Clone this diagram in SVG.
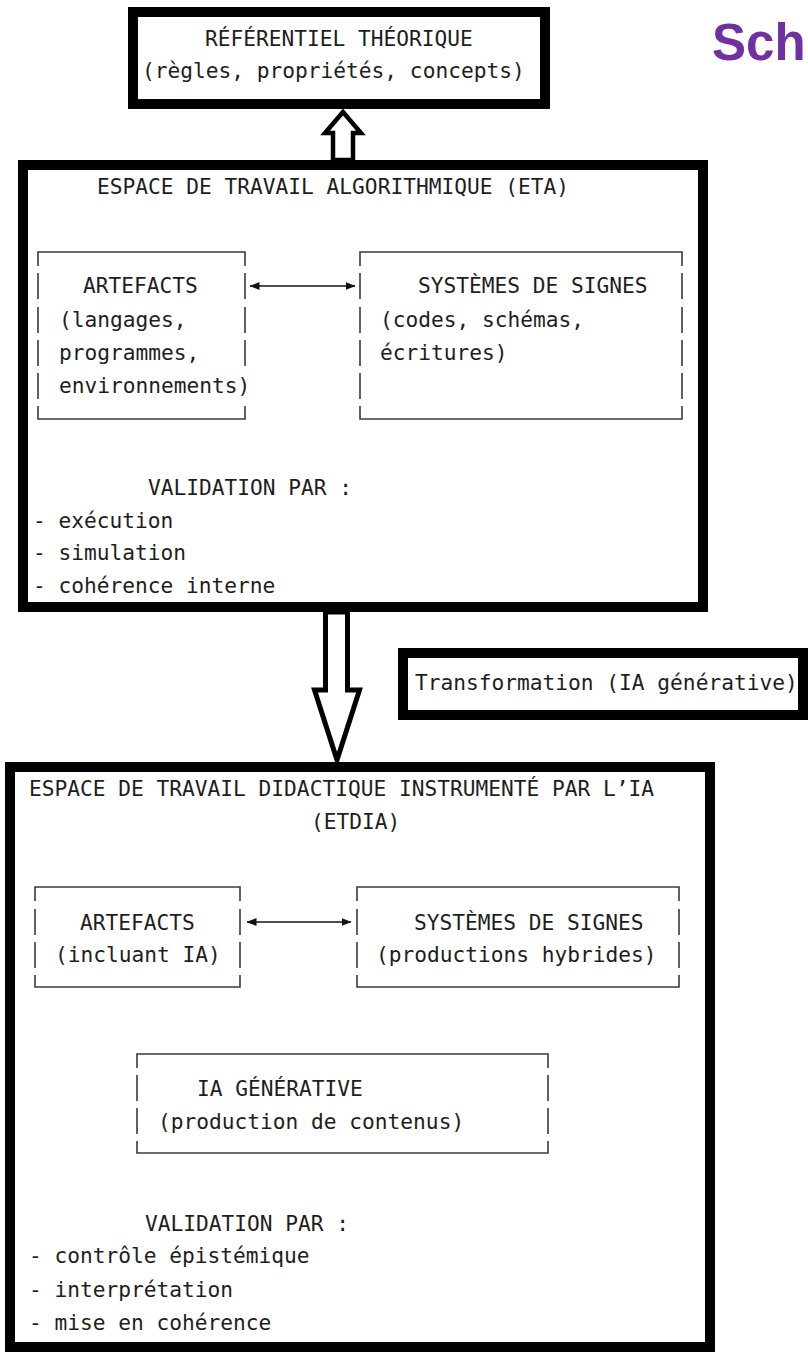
<svg xmlns="http://www.w3.org/2000/svg" width="808" height="1352" viewBox="0 0 808 1352">
  <style>
    .t { font-family: "DejaVu Sans Mono", "Liberation Mono", monospace; font-size: 21.2px; fill: #1e1e1e; }
    .frame { fill: #fff; stroke: #000; stroke-width: 10; }
    .ascii { fill: none; stroke: #3a3a3a; stroke-width: 1.6; }
    .big { fill: #fff; stroke: #000; stroke-linejoin: miter; }
    .link { stroke: #111; stroke-width: 1.5; fill: none; }
    .title { font-family: "Liberation Sans", Arial, sans-serif; font-weight: bold; font-size: 51px; fill: #7030a0; }
  </style>
  <defs>
    <marker id="head" viewBox="0 0 10 8" refX="9.5" refY="4" markerWidth="10" markerHeight="8" markerUnits="userSpaceOnUse" orient="auto-start-reverse">
      <path d="M0,0 L10,4 L0,8 z" fill="#111"/>
    </marker>
  </defs>

  <rect width="808" height="1352" fill="#fff"/>

  <!-- heading, cut at the right edge -->
  <text class="title" x="712" y="60">Sch</text>

  <!-- theoretical reference -->
  <g id="referentiel">
    <rect class="frame" x="133" y="12" width="412" height="92"/>
    <text class="t" x="205" y="46">RÉFÉRENTIEL THÉORIQUE</text>
    <text class="t" x="142" y="78">(règles, propriétés, concepts)</text>
  </g>

  <!-- algorithmic work space -->
  <g id="eta">
    <rect class="frame" x="23" y="165" width="680" height="442"/>
    <text class="t" x="97" y="194">ESPACE DE TRAVAIL ALGORITHMIQUE (ETA)</text>
    <text class="t" x="148" y="495">VALIDATION PAR :</text>
    <text class="t" x="33" y="528">- exécution</text>
    <text class="t" x="33" y="560">- simulation</text>
    <text class="t" x="33" y="593">- cohérence interne</text>
  </g>

  <g id="eta-artefacts">
    <path class="ascii" d="M38,266 V252 H245 V266 M38,273 V299 M245,273 V299 M38,307 V333 M245,307 V333 M38,340 V366 M245,340 V366 M38,373 V399 M38,406 V419 H245 V406"/>
    <text class="t" x="83" y="293">ARTEFACTS</text>
    <text class="t" x="59" y="327">(langages,</text>
    <text class="t" x="59" y="360">programmes,</text>
    <text class="t" x="59" y="393">environnements)</text>
  </g>

  <g id="eta-signes">
    <path class="ascii" d="M360,266 V252 H682 V266 M360,273 V299 M682,273 V299 M360,307 V333 M682,307 V333 M360,340 V366 M682,340 V366 M360,373 V399 M682,373 V399 M360,406 V419 H682 V406"/>
    <text class="t" x="418" y="293">SYSTÈMES DE SIGNES</text>
    <text class="t" x="380" y="327">(codes, schémas,</text>
    <text class="t" x="380" y="360">écritures)</text>
  </g>

  <!-- transformation label -->
  <g id="transformation">
    <rect class="frame" x="403" y="653" width="400" height="62"/>
    <text class="t" x="415" y="690">Transformation (IA générative)</text>
  </g>

  <!-- AI-instrumented didactic work space -->
  <g id="etdia">
    <rect class="frame" x="10" y="767" width="700" height="580"/>
    <text class="t" x="29" y="796">ESPACE DE TRAVAIL DIDACTIQUE INSTRUMENTÉ PAR L’IA</text>
    <text class="t" x="311" y="829">(ETDIA)</text>
    <text class="t" x="145" y="1231">VALIDATION PAR :</text>
    <text class="t" x="29" y="1263">- contrôle épistémique</text>
    <text class="t" x="29" y="1297">- interprétation</text>
    <text class="t" x="29" y="1330">- mise en cohérence</text>
  </g>

  <g id="etdia-artefacts">
    <path class="ascii" d="M35,901 V887 H240 V901 M35,909 V935 M240,909 V935 M35,942 V968 M240,942 V968 M35,975 V987 H240 V975"/>
    <text class="t" x="80" y="930">ARTEFACTS</text>
    <text class="t" x="55" y="962">(incluant IA)</text>
  </g>

  <g id="etdia-signes">
    <path class="ascii" d="M357,901 V887 H679 V901 M357,909 V935 M679,909 V935 M357,942 V968 M679,942 V968 M357,975 V987 H679 V975"/>
    <text class="t" x="414" y="930">SYSTÈMES DE SIGNES</text>
    <text class="t" x="376" y="962">(productions hybrides)</text>
  </g>

  <g id="ia-generative">
    <path class="ascii" d="M137,1068 V1054 H548 V1068 M137,1075 V1101 M548,1075 V1101 M137,1108 V1134 M548,1108 V1134 M137,1141 V1153 H548 V1141"/>
    <text class="t" x="197" y="1096">IA GÉNÉRATIVE</text>
    <text class="t" x="158" y="1129">(production de contenus)</text>
  </g>

  <!-- connectors: hollow block arrows and two-way links -->
  <g id="connectors">
    <polygon class="big" stroke-width="4.5" points="343,112 361,133 353,133 353,160 333,160 333,133 325,133"/>
    <polygon class="big" stroke-width="5" points="325.5,612 347.5,612 347.5,690 359.5,690 337,760 314.5,690 325.5,690"/>
    <line class="link" x1="250" y1="286" x2="355" y2="286" marker-start="url(#head)" marker-end="url(#head)"/>
    <line class="link" x1="247" y1="922" x2="351" y2="922" marker-start="url(#head)" marker-end="url(#head)"/>
  </g>
</svg>
